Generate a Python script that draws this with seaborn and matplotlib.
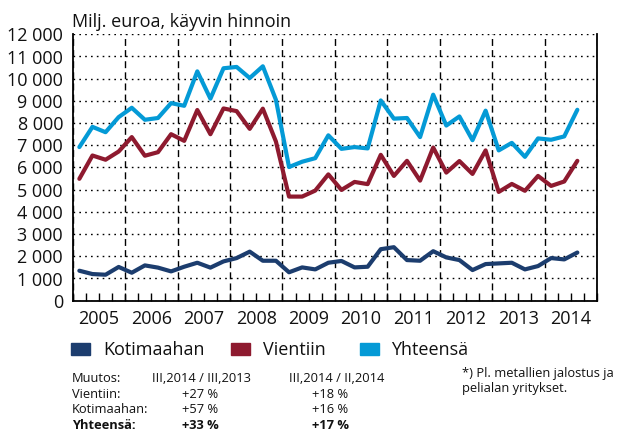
import numpy as np
import pandas as pd
import matplotlib
matplotlib.use("Agg")
import matplotlib.pyplot as plt
import seaborn as sns
from matplotlib.ticker import FixedLocator, FuncFormatter

years = list(range(2005, 2015))
quarters = [f"{y} Q{q}" for y in years for q in range(1, 5)][:39]

kotimaahan = [1350, 1200, 1170, 1520, 1260, 1590, 1490, 1320, 1530, 1710,
              1490, 1770, 1920, 2210, 1800, 1800, 1280, 1500, 1410, 1710,
              1790, 1500, 1530, 2320, 2410, 1830, 1800, 2230, 1950, 1830,
              1380, 1650, 1680, 1710, 1410, 1560, 1920, 1860, 2170]
vientiin = [5490, 6540, 6350, 6720, 7370, 6530, 6690, 7500, 7200, 8590,
            7500, 8660, 8540, 7740, 8650, 7170, 4690, 4690, 4960, 5690,
            4990, 5350, 5250, 6570, 5620, 6300, 5410, 6900, 5770, 6290,
            5710, 6770, 4900, 5260, 4950, 5620, 5170, 5370, 6300]
yhteensa = [6920, 7830, 7590, 8270, 8690, 8150, 8230, 8900, 8780, 10330,
            9100, 10470, 10530, 10030, 10560, 9050, 6020, 6260, 6420, 7450,
            6840, 6920, 6860, 9020, 8200, 8230, 7370, 9280, 7890, 8300,
            7230, 8560, 6770, 7110, 6480, 7310, 7250, 7400, 8600]

series_names = ["Kotimaahan", "Vientiin", "Yhteensä"]
colors = ["#1c3d6e", "#8e1a2f", "#049ad6"]

title = "Milj. euroa, käyvin hinnoin"
table_header = ["Muutos:", "III,2014 / III,2013", "III,2014 / II,2014"]
table_rows = [("Vientiin:", "+27 %", "+18 %"),
              ("Kotimaahan:", "+57 %", "+16 %"),
              ("Yhteensä:", "+33 %", "+17 %")]
footnote_lines = ["*) Pl. metallien jalostus ja", "pelialan yritykset."]

# position of each quarter (mid-quarter, in years)
xpos = [int(q[:4]) + (int(q[-1]) - 0.5) / 4 for q in quarters]
df = pd.DataFrame({
    "x": xpos * 3,
    "value": kotimaahan + vientiin + yhteensa,
    "series": sum([[n] * len(quarters) for n in series_names], []),
})

sns.set_theme(style="white")
plt.rcParams["font.family"] = ["Open Sans", "DejaVu Sans"]

W, H = 619, 433
fig = plt.figure(figsize=(W / 100, H / 100), dpi=100)
ax = fig.add_axes([72.8 / W, 1 - 300.7 / H, (597.0 - 72.8) / W, (300.7 - 34.3) / H])

sns.lineplot(data=df, x="x", y="value", hue="series", palette=colors,
             hue_order=series_names, linewidth=3.0, ax=ax, legend=False,
             sort=False)

ax.set_xlim(2005, 2015)
ax.set_ylim(0, 12000)
ax.set_xlabel("")
ax.set_ylabel("")

# y axis
ax.set_yticks(range(0, 12001, 1000))
ax.set_yticklabels([f"{v:,}".replace(",", " ") for v in range(0, 12001, 1000)])
ax.tick_params(axis="y", length=0, pad=7, labelsize=13, labelcolor="#111111")
ax.yaxis.grid(True, linestyle=(0, (1.2, 3.0)), color="black", linewidth=1.0)

# x axis: major at year boundaries (dashed grid), minor at quarters with year labels at mid-year
ax.xaxis.set_major_locator(FixedLocator(list(range(2005, 2016))))
ax.xaxis.set_major_formatter(FuncFormatter(lambda v, p: ""))
minor = [y + f for y in years for f in (0.25, 0.5, 0.75)]
ax.xaxis.set_minor_locator(FixedLocator(minor))
ax.xaxis.set_minor_formatter(FuncFormatter(
    lambda v, p: str(int(v)) if abs(v - int(v) - 0.5) < 1e-6 else ""))
ax.tick_params(axis="x", which="both", direction="in", length=5.5, width=1.0,
               color="black", bottom=True)
ax.tick_params(axis="x", which="minor", pad=7, labelsize=13, labelcolor="#111111")
ax.xaxis.grid(True, which="major", linestyle=(0, (5, 3)), color="black", linewidth=1.0)
ax.set_axisbelow(True)

for s in ["left", "bottom", "right"]:
    ax.spines[s].set_visible(True)
    ax.spines[s].set_color("black")
    ax.spines[s].set_linewidth(1.3)
ax.spines["top"].set_visible(False)

fig.text(71.5 / W, 1 - 26.7 / H, title, fontsize=13, va="baseline", ha="left", color="#111111")

# legend
sq_x = [71, 231, 360]
txt_x = [103, 263, 391.5]
for (sx, tx, name, c) in zip(sq_x, txt_x, series_names, colors):
    fig.patches.append(plt.Rectangle((sx / W, 1 - 355 / H), 19 / W, 12.5 / H,
                                     transform=fig.transFigure, color=c))
    fig.text(tx / W, 1 - 355 / H, name, fontsize=13, va="baseline",
             ha="left", color="#111111")

# table
row_base = [381.7, 397.7, 413.4, 429.3]
fs = 9.3
fig.text(71.7 / W, 1 - row_base[0] / H, table_header[0], fontsize=fs, va="baseline", color="#111111")
fig.text(151.7 / W, 1 - row_base[0] / H, table_header[1], fontsize=fs, va="baseline", color="#111111")
fig.text(289.3 / W, 1 - row_base[0] / H, table_header[2], fontsize=fs, va="baseline", color="#111111")
for i, (lab, a, b) in enumerate(table_rows):
    w = "bold" if i == 2 else "normal"
    yy = 1 - row_base[i + 1] / H
    fig.text(71.7 / W, yy, lab, fontsize=fs, va="baseline", weight=w, color="#111111")
    fig.text(181.7 / W, yy, a, fontsize=fs, va="baseline", weight=w, color="#111111")
    fig.text(311.7 / W, yy, b, fontsize=fs, va="baseline", weight=w, color="#111111")

foot_base = [376.7, 392.4]
for yb, line in zip(foot_base, footnote_lines):
    fig.text(461.7 / W, 1 - yb / H, line, fontsize=fs, va="baseline", ha="left",
             color="#111111")

fig.savefig("out.png", dpi=100)
